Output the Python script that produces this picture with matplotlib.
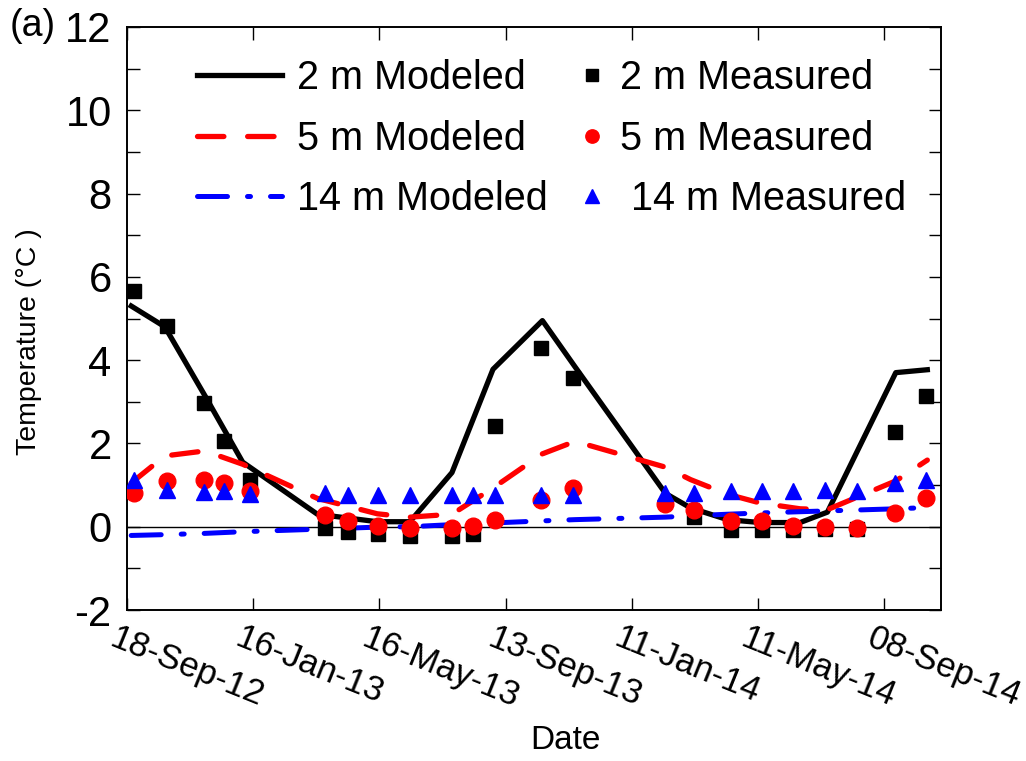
import numpy as np
import pandas as pd
import matplotlib
matplotlib.use('Agg')
import matplotlib.pyplot as plt
import matplotlib.dates as mdates
from matplotlib.ticker import MultipleLocator
from matplotlib.transforms import ScaledTranslation

plt.rcParams['font.family'] = ['Liberation Sans', 'DejaVu Sans']
plt.rcParams['axes.unicode_minus'] = False

# model output (dates and temperatures, degC)
model_dates = pd.to_datetime([
    '2012-09-22', '2012-10-24', '2012-12-01', '2013-01-06', '2013-03-18',
    '2013-05-14', '2013-06-14', '2013-07-24', '2013-09-01', '2013-10-18',
    '2013-11-18', '2014-02-12', '2014-03-08', '2014-04-12', '2014-05-13',
    '2014-06-20', '2014-07-16', '2014-09-19', '2014-10-19'])
model_2m = [5.3, 4.8, 3.15, 1.55, 0.3, 0.12, 0.12, 1.3, 3.78, 4.95,
            3.84, 0.8, 0.45, 0.17, 0.1, 0.1, 0.35, 3.7, 3.77]
model_5m = [1.05, 1.7, 1.82, 1.5, 0.68, 0.31, 0.23, 0.3, 0.93, 1.75,
            2.05, 1.43, 1.13, 0.78, 0.57, 0.43, 0.41, 1.1, 1.6]
model_14m = [-0.21, -0.19, -0.16, -0.12, -0.06, -0.01, 0.0, 0.05, 0.09, 0.14,
             0.17, 0.23, 0.26, 0.3, 0.33, 0.36, 0.38, 0.43, 0.46]

# field measurements
obs_dates = pd.to_datetime([
    '2012-09-25', '2012-10-26', '2012-11-30', '2012-12-19', '2013-01-13',
    '2013-03-25', '2013-04-16', '2013-05-15', '2013-06-14', '2013-07-24',
    '2013-08-13', '2013-09-03', '2013-10-17', '2013-11-16', '2014-02-12',
    '2014-03-11', '2014-04-15', '2014-05-15', '2014-06-13', '2014-07-14',
    '2014-08-13', '2014-09-18', '2014-10-18'])
obs_2m = [5.67, 4.81, 2.98, 2.06, 1.12, -0.02, -0.12, -0.17, -0.22, -0.22,
          -0.17, 2.42, 4.3, 3.58, np.nan, 0.24, -0.07, -0.07, -0.07, -0.05,
          -0.05, 2.27, 3.14]
obs_5m = [0.81, 1.09, 1.12, 1.05, 0.85, 0.29, 0.14, 0.02, -0.03, -0.03,
          0.02, 0.17, 0.65, 0.93, 0.55, 0.39, 0.13, 0.13, 0.02, 0.0,
          -0.03, 0.33, 0.69]
obs_14m = [1.12, 0.87, 0.84, 0.85, 0.79, 0.81, 0.77, 0.77, 0.77, 0.77,
           0.77, 0.77, 0.77, 0.77, 0.81, 0.81, 0.85, 0.85, 0.85, 0.89,
           0.85, 1.04, 1.13]

tick_dates = pd.to_datetime(['2012-09-18', '2013-01-16', '2013-05-16', '2013-09-13',
                             '2014-01-11', '2014-05-11', '2014-09-08'])

fig = plt.figure(figsize=(10.26, 7.61), dpi=100)
ax = fig.add_axes([127/1026, 151/761, 814/1026, 583/761])

ax.axhline(0, color='black', lw=1.0, zorder=1)

l2, = ax.plot(model_dates, model_2m, color='black', lw=3.8, zorder=2)
l5, = ax.plot(model_dates, model_5m, color='#ff0000', lw=3.8, zorder=2,
              dashes=(5, 4.5), dash_capstyle='round')
l14, = ax.plot(model_dates, model_14m, color='#0000ff', lw=3.6, zorder=2,
               dashes=(6, 4.0, 0.6, 4.0), dash_capstyle='round')

m2, = ax.plot(obs_dates, obs_2m, 's', color='black', ms=10.5, ls='none', zorder=3)
m5, = ax.plot(obs_dates, obs_5m, 'o', color='#ff0000', ms=12, ls='none', zorder=4)
m14, = ax.plot(obs_dates, obs_14m, '^', color='#0000ff', ms=12, ls='none', zorder=5)

ax.set_xlim(pd.Timestamp('2012-09-18'), pd.Timestamp('2014-11-01'))
ax.set_ylim(-2, 12)
ax.set_xticks(tick_dates)
ax.xaxis.set_major_formatter(mdates.DateFormatter('%d-%b-%y'))
ax.yaxis.set_major_locator(MultipleLocator(2))
ax.yaxis.set_minor_locator(MultipleLocator(1))

for s in ax.spines.values():
    s.set_linewidth(1.4)
ax.tick_params(which='both', direction='in', top=True, right=True,
               length=9, width=1.0)
ax.tick_params(axis='x', pad=8, labelsize=25)
ax.tick_params(axis='y', pad=11, labelsize=30)

# slanted date labels hanging from each tick
off = ScaledTranslation(-7/72, 0, fig.dpi_scale_trans)
for lab in ax.get_xticklabels():
    lab.set_rotation(-22)
    lab.set_ha('left')
    lab.set_va('top')
    lab.set_rotation_mode('anchor')
    lab.set_transform(lab.get_transform() + off)

ax.set_ylabel('Temperature (°C )', fontsize=20.5)
ax.yaxis.set_label_coords(-0.105, 0.46)
ax.set_xlabel('Date', fontsize=24)
ax.xaxis.set_label_coords(0.539, -0.198)

fig.text(10/1026, 1 - 8/761, '(a)', fontsize=27, ha='left', va='top')

leg1 = ax.legend([l2, l5, l14], ['2 m Modeled', '5 m Modeled', '14 m Modeled'],
                 loc='upper left', bbox_to_anchor=(0.086, 0.945), frameon=False,
                 fontsize=28.5, handlelength=2.15, handletextpad=0.38,
                 labelspacing=0.57, borderpad=0, borderaxespad=0)
ax.add_artist(leg1)
ax.legend([m2, m5, m14], ['2 m Measured', '5 m Measured', ' 14 m Measured'],
          loc='upper left', bbox_to_anchor=(0.547, 0.945), frameon=False,
          fontsize=28.5, handlelength=1.0, handletextpad=0.2,
          labelspacing=0.57, borderpad=0, borderaxespad=0, markerscale=0.8)

fig.savefig('out.png', dpi=100)
